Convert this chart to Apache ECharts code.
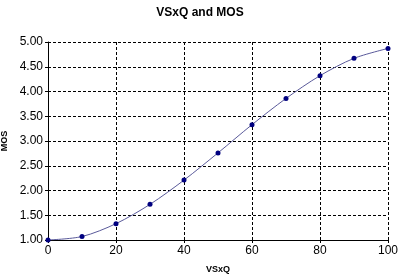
<!DOCTYPE html>
<html><head><meta charset="utf-8">
<script src="https://cdn.jsdelivr.net/npm/echarts@6/dist/echarts.min.js"></script>
<style>html,body{margin:0;padding:0;background:#fff}#c{width:400px;height:280px}</style>
</head><body><div id="c"></div>
<script>
var xValues = [0, 10, 20, 30, 40, 50, 60, 70, 80, 90, 100];
var mosValues = [1.00, 1.07, 1.33, 1.72, 2.21, 2.76, 3.33, 3.86, 4.32, 4.67, 4.87];
var titleText = 'VSxQ and MOS';
var xName = 'VSxQ';
var yName = 'MOS';
var pts = xValues.map(function(x, i){ return [x, mosValues[i]]; });
var chart = echarts.init(document.getElementById('c'));
var f = 'Liberation Sans, Arial, sans-serif';
chart.setOption({
  animation: false,
  title: {text: titleText, left: 'center', top: 2, textStyle: {fontFamily: f, fontSize: 12, fontWeight: 'bold', color: '#000'}},
  grid: {left: 48, right: 12, top: 42, bottom: 40, containLabel: false, outerBoundsMode: 'none'},
  xAxis: {
    type: 'value', min: 0, max: 100, interval: 20,
    name: xName, nameLocation: 'middle', nameGap: 25,
    nameTextStyle: {fontFamily: f, fontSize: 9, fontWeight: 'bold', color: '#000'},
    axisLine: {show: true, onZero: false, lineStyle: {color: '#000', width: 1}},
    axisTick: {show: true, length: 3, lineStyle: {color: '#000'}},
    axisLabel: {fontFamily: f, fontSize: 12, color: '#000', margin: 5},
    splitLine: {show: true, lineStyle: {color: '#000', type: [3, 2], width: 1}}
  },
  yAxis: {
    type: 'value', min: 1, max: 5, interval: 0.5,
    name: yName, nameLocation: 'middle', nameGap: 27, nameRotate: 90,
    nameTextStyle: {fontFamily: f, fontSize: 9, fontWeight: 'bold', color: '#000'},
    axisLine: {show: true, lineStyle: {color: '#000', width: 1}},
    axisTick: {show: true, length: 3, lineStyle: {color: '#000'}},
    axisLabel: {fontFamily: f, fontSize: 12, color: '#000', margin: 5, formatter: function(v){ return v.toFixed(2); }},
    splitLine: {show: true, lineStyle: {color: '#000', type: [3, 2], width: 1}}
  },
  series: [{
    type: 'line', data: pts, smooth: 0.3,
    symbol: 'circle', symbolSize: 5,
    lineStyle: {color: '#5a5a9a', width: 1},
    itemStyle: {color: '#000080'}
  }]
});
</script></body></html>
